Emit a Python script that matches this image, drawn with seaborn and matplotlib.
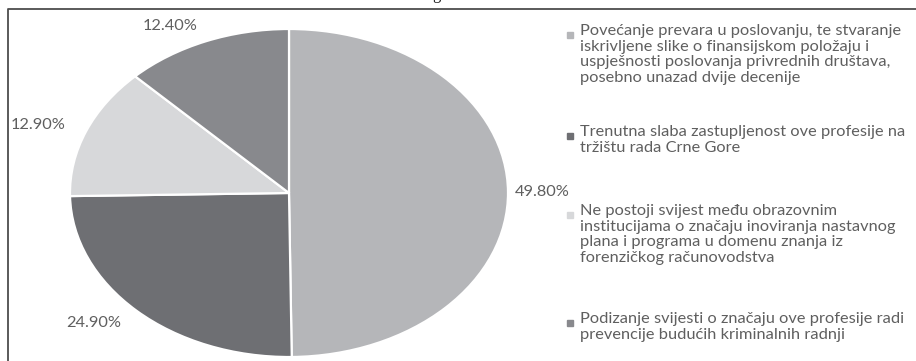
import numpy as np
import matplotlib
matplotlib.use("Agg")
import matplotlib.pyplot as plt
from matplotlib.lines import Line2D
import seaborn as sns

# Survey shares (percent) for each stated reason
categories = [
    "Povećanje prevara u poslovanju, te stvaranje\niskrivljene slike o finansijskom položaju i\nuspješnosti poslovanja privrednih društava,\nposebno unazad dvije decenije",
    "Trenutna slaba zastupljenost ove profesije na\ntržištu rada Crne Gore",
    "Ne postoji svijest među obrazovnim\ninstitucijama o značaju inoviranja nastavnog\nplana i programa u domenu znanja iz\nforenzičkog računovodstva",
    "Podizanje svijesti o značaju ove profesije radi\nprevencije budućih kriminalnih radnji",
]
shares = [49.8, 24.9, 12.9, 12.4]
pct_labels = [f"{v:.2f}%" for v in shares]

slice_colors = ["#b5b6b9", "#6e6f73", "#d7d8da", "#88898d"]
text_color = "#5f5f5f"

sns.set_theme(style="white")
plt.rcParams["font.family"] = ["Lato", "DejaVu Sans"]

W, H = 916, 361
fig = plt.figure(figsize=(W / 100, H / 100), dpi=100)
fig.patch.set_facecolor("white")

# Pie axes: stretched horizontally, so the pie is drawn as an ellipse
ax = fig.add_axes([70 / W, 4 / H, 438 / W, 328 / H])
wedges, texts = ax.pie(
    shares,
    colors=slice_colors,
    startangle=90,
    counterclock=False,
    labels=pct_labels,
    labeldistance=1.1,
    wedgeprops=dict(edgecolor="white", linewidth=1.6),
    textprops=dict(color=text_color, fontsize=11.8),
)
ax.set_xlim(-1, 1)
ax.set_ylim(-1, 1)
ax.set_aspect("auto")
ax.axis("off")

# Pull the big slice's label closer to the rim
label_dist = [1.03, 1.1, 1.1, 1.1]
for w, t, d in zip(wedges, texts, label_dist):
    mid = np.deg2rad((w.theta1 + w.theta2) / 2)
    t.set_position((d * np.cos(mid), d * np.sin(mid)))
    t.set_va("center")

# Legend: square marker followed by wrapped text
first_line_y = [35, 136, 215, 323]
marker_x = 570
text_x = 580
for lab, col, y in zip(categories, slice_colors, first_line_y):
    fig.add_artist(Line2D([marker_x / W], [1 - y / H], transform=fig.transFigure,
                          marker="s", markersize=5, color=col, linestyle="none"))
    fig.text(text_x / W, 1 - (y - 10.8) / H, lab, ha="left", va="top",
             fontsize=11.8, color=text_color, linespacing=1.14)

# Chart frame (top and left edges visible)
fig.add_artist(Line2D([8 / W, 8 / W, 1.01], [-0.05, 1 - 9 / H, 1 - 9 / H],
                      transform=fig.transFigure, color="#4d4d4d", linewidth=1.3))

# Caption above the frame, only its descender reaches into view
fig.text(432 / W, 1 + 1 / H, "g", ha="left", va="baseline", fontsize=12,
         family="Liberation Serif", color="#222222")

fig.savefig("out.png", dpi=100, facecolor="white")
